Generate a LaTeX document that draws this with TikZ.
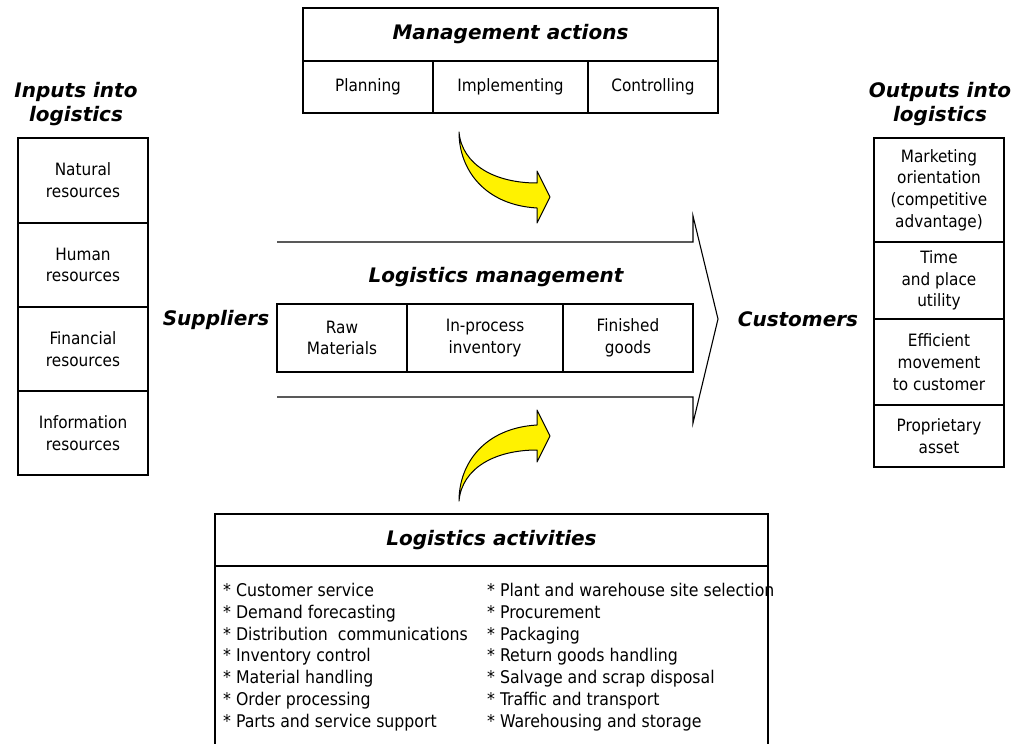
\documentclass[tikz,border=0pt]{standalone}
\usepackage{fontspec}
\setmainfont{DejaVu Sans Condensed}
\newfontfamily\headfont{DejaVu Sans}
\newcommand\cellsize{\fontsize{17}{21.7}\selectfont}
\newcommand\listsize{\fontsize{17.5}{21.8}\selectfont}
\newcommand\headsize{\headfont\bfseries\itshape\fontsize{20}{24.5}\selectfont}
\begin{document}
\begin{tikzpicture}[x=1pt,y=-1pt,
    cell/.style={draw, line width=1.1pt, inner sep=0pt, align=center, font=\cellsize},
    head/.style={align=center, inner sep=0pt, font=\headsize},
    listing/.style={anchor=north west, align=left, inner sep=0pt, font=\listsize},
    curvearrow/.style={draw, fill=yellow, line width=1pt, line join=round}]
  \useasboundingbox (0,0) rectangle (1020,744);
  % management actions
  \node[cell, minimum width=415pt, minimum height=53pt, font=\headsize] (mact) at (510.5,34.5) {Management actions};
  \node[cell, minimum width=130pt, minimum height=52pt] (plan) at (368,87) {Planning};
  \node[cell, minimum width=155pt, minimum height=52pt] (impl) at (510.5,87) {Implementing};
  \node[cell, minimum width=130pt, minimum height=52pt] (ctrl) at (653,87) {Controlling};
  % inputs
  \node[head] (inhead) at (76,104) {Inputs into\\logistics};
  \node[cell, minimum width=130pt, minimum height=85pt] (nat) at (83,180.5) {Natural\\resources};
  \node[cell, minimum width=130pt, minimum height=84pt] (hum) at (83,265) {Human\\resources};
  \node[cell, minimum width=130pt, minimum height=84pt] (fin) at (83,349) {Financial\\resources};
  \node[cell, minimum width=130pt, minimum height=84pt] (inf) at (83,433) {Information\\resources};
  % outputs
  \node[head] (outhead) at (940,104) {Outputs into\\logistics};
  \node[cell, minimum width=130pt, minimum height=104pt] (mkt) at (939,190) {Marketing\\orientation\\(competitive\\advantage)};
  \node[cell, minimum width=130pt, minimum height=77pt] (time) at (939,280.5) {Time\\and place\\utility};
  \node[cell, minimum width=130pt, minimum height=86pt] (eff) at (939,362) {Efficient\\movement\\to customer};
  \node[cell, minimum width=130pt, minimum height=62pt] (prop) at (939,436) {Proprietary\\asset};
  % logistics management
  \draw[line width=1.1pt] (277,242) -- (693,242) -- (693,216) -- (718,319) -- (693,423) -- (693,397) -- (277,397);
  \node[head] (lmgmt) at (496,277) {Logistics management};
  \node[head] (supp) at (216,320) {Suppliers};
  \node[head] (cust) at (798,319) {Customers};
  \node[cell, minimum width=130pt, minimum height=68pt] (raw) at (342,338) {Raw\\Materials};
  \node[cell, minimum width=156pt, minimum height=68pt] (inproc) at (485,338) {In-process\\inventory};
  \node[cell, minimum width=130pt, minimum height=68pt] (fgood) at (628,338) {Finished\\goods};
  % yellow arrows
  \draw[curvearrow] (459,132) .. controls (462,165) and (495,183) .. (537,183) -- (537,171) -- (550,197)
    -- (537,223) -- (537,208) .. controls (485,205) and (459,170) .. (459,132) -- cycle;
  \draw[curvearrow] (459,501) .. controls (462,468) and (495,450) .. (537,450) -- (537,462) -- (550,436)
    -- (537,410) -- (537,425) .. controls (485,428) and (459,463) .. (459,501) -- cycle;
  % logistics activities
  \node[cell, minimum width=553pt, minimum height=52pt, font=\headsize] (lact) at (491.5,540) {Logistics activities};
  \node[cell, minimum width=553pt, minimum height=200pt, anchor=north] (abody) at (491.5,566) {};
  \node[listing] (lleft) at (223,583) {* Customer service\\* Demand forecasting\\* Distribution~ communications\\* Inventory control\\* Material handling\\* Order processing\\* Parts and service support};
  \node[listing] (lright) at (487,583) {* Plant and warehouse site selection\\* Procurement\\* Packaging\\* Return goods handling\\* Salvage and scrap disposal\\* Traffic and transport\\* Warehousing and storage};
\end{tikzpicture}
\end{document}
